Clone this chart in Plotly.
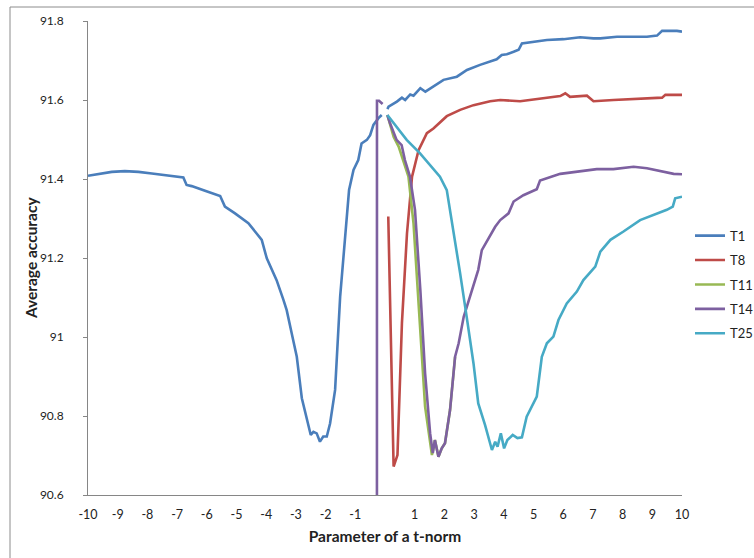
import plotly.graph_objects as go

# ---- data ----
t1_x = [-10, -9.43, -9.2, -8.76, -8.3, -7.85, -7.4, -6.79, -6.68, -6.51, -6.06, -5.55, -5.39, -5.05,
        -4.6, -4.15, -3.98, -3.65, -3.42, -3.31, -3.14, -2.97, -2.8, -2.64, -2.5, -2.41, -2.3, -2.19,
        -2.08, -1.96, -1.85, -1.68, -1.51, -1.35, -1.21, -1.06, -0.9, -0.79, -0.61, -0.5, -0.39,
        -0.22, -0.11, 0, 0.08, 0.12, 0.4, 0.57, 0.68, 0.85, 0.96, 1.19, 1.36, 1.64, 1.97, 2.42, 2.76,
        3.2, 3.54, 3.76, 3.93, 4.1, 4.33, 4.5, 4.61, 5.0, 5.45, 6.01, 6.57, 7.02, 7.25, 7.81, 8.82,
        9.16, 9.33, 9.83, 10]
t1_y = [91.408, 91.414, 91.418, 91.420, 91.418, 91.414, 91.410, 91.404, 91.385, 91.382, 91.370,
        91.357, 91.330, 91.313, 91.288, 91.246, 91.199, 91.144, 91.094, 91.068, 91.009, 90.950,
        90.845, 90.798, 90.752, 90.760, 90.756, 90.735, 90.748, 90.748, 90.781, 90.866, 91.102,
        91.246, 91.372, 91.423, 91.448, 91.490, 91.499, 91.511, 91.537, 91.554, 91.562, None,
        91.577, 91.583, 91.596, 91.606, 91.600, 91.614, 91.611, 91.630, 91.621, 91.634, 91.651,
        91.659, 91.676, 91.689, 91.697, 91.703, 91.714, 91.716, 91.722, 91.727, 91.743, 91.748,
        91.752, 91.754, 91.759, 91.756, 91.756, 91.760, 91.760, 91.763, 91.775, 91.775, 91.773]

t8_x = [0.11, 0.29, 0.42, 0.57, 0.74, 0.91, 1.13, 1.41, 1.63, 2.08, 2.53, 2.98, 3.54, 3.88, 4.55,
        5.22, 5.9, 6.07, 6.23, 6.8, 7.02, 7.69, 8.59, 9.33, 9.44, 10]
t8_y = [91.305, 90.672, 90.701, 91.035, 91.262, 91.406, 91.473, 91.516, 91.528, 91.559, 91.575,
        91.587, 91.597, 91.600, 91.597, 91.604, 91.610, 91.617, 91.608, 91.611, 91.597, 91.600,
        91.604, 91.606, 91.613, 91.613]

t11_x = [0.08, 0.29, 0.46, 0.63, 0.79, 0.96, 1.13, 1.35, 1.58, 1.68, 1.8, 1.91, 2.02, 2.19, 2.36]
t11_y = [91.562, 91.507, 91.482, 91.440, 91.406, 91.288, 91.077, 90.824, 90.701, 90.739, 90.697,
         90.718, 90.731, 90.815, 90.950]

t14_x = [-0.28, -0.27, -0.2, -0.08, 0, 0.08, 0.17, 0.39, 0.56, 0.67, 0.84, 1.01, 1.19, 1.35, 1.52,
         1.61, 1.68, 1.8, 1.91, 2.02, 2.19, 2.36, 2.48, 2.65, 2.93, 3.14, 3.26, 3.54, 3.71, 3.88,
         4.16, 4.33, 4.66, 5.11, 5.22, 5.9, 6.57, 7.13, 7.69, 8.37, 8.82, 9.38, 9.72, 10]
t14_y = [85.0, 91.598, 91.598, 91.590, None, 91.562, 91.541, 91.499, 91.486, 91.448, 91.406, 91.322,
         91.119, 90.908, 90.756, 90.706, 90.739, 90.697, 90.718, 90.731, 90.815, 90.950, 90.984,
         91.051, 91.119, 91.170, 91.220, 91.258, 91.279, 91.296, 91.313, 91.343, 91.359, 91.374,
         91.396, 91.413, 91.420, 91.425, 91.425, 91.431, 91.427, 91.419, 91.413, 91.412]

t25_x = [0.08, 0.29, 0.73, 1.18, 1.58, 1.85, 2.08, 2.3, 2.53, 2.75, 2.98, 3.14, 3.37, 3.6, 3.71,
         3.79, 3.9, 4.01, 4.12, 4.3, 4.46, 4.61, 4.77, 5.11, 5.28, 5.45, 5.67, 5.84, 6.12, 6.46,
         6.68, 7.08, 7.25, 7.59, 8.03, 8.59, 9.04, 9.49, 9.69, 9.77, 10]
t25_y = [91.562, 91.541, 91.499, 91.465, 91.431, 91.406, 91.372, 91.271, 91.161, 91.051, 90.933,
         90.832, 90.777, 90.714, 90.735, 90.722, 90.756, 90.718, 90.739, 90.752, 90.744, 90.746,
         90.798, 90.849, 90.950, 90.984, 91.001, 91.043, 91.085, 91.115, 91.144, 91.178, 91.216,
         91.246, 91.267, 91.296, 91.309, 91.322, 91.330, 91.351, 91.355]

series_names = ["T1", "T8", "T11", "T14", "T25"]
series_colors = ["#4A7EBB", "#BE4B48", "#98B954", "#7D60A0", "#46AAC5"]
series_data = [(t1_x, t1_y), (t8_x, t8_y), (t11_x, t11_y), (t14_x, t14_y), (t25_x, t25_y)]

x_tickvals = [-10, -9, -8, -7, -6, -5, -4, -3, -2, -1, 1, 2, 3, 4, 5, 6, 7, 8, 9, 10]
x_ticktext = ["-10", "-9", "-8", "-7", "-6", "-5", "-4", "-3", "-2", "-1",
              "1", "2", "3", "4", "5", "6", "7", "8", "9", "10"]
y_tickvals = [90.6, 90.8, 91.0, 91.2, 91.4, 91.6, 91.8]
y_ticktext = ["90.6", "90.8", "91", "91.2", "91.4", "91.6", "91.8"]

# ---- figure ----
fig = go.Figure()
for name, color, (xs, ys) in zip(series_names, series_colors, series_data):
    fig.add_trace(go.Scatter(x=xs, y=ys, mode="lines", name=name, legendgroup=name,
                             line=dict(color=color, width=2.6), connectgaps=False))

FONT = "Lato, 'Open Sans', sans-serif"
W, H = 754, 558
L, R, T, B = 88, 72, 21, 63
pw, ph = W - L - R, H - T - B

fig.update_layout(
    width=W, height=H,
    margin=dict(l=L, r=R, t=T, b=B, autoexpand=False),
    paper_bgcolor="white", plot_bgcolor="white",
    font=dict(family=FONT, size=12, color="#222"),
    showlegend=True,
    legend=dict(xref="container", yref="container", x=690 / W, y=0.6045, xanchor="left", yanchor="top",
                font=dict(family=FONT, size=13, color="#222"),
                tracegroupgap=4.5, bgcolor="rgba(0,0,0,0)"),
    xaxis=dict(range=[-10, 10], tickvals=x_tickvals, ticktext=x_ticktext, ticks="", showgrid=False,
               zeroline=False, showline=True, linecolor="#868686", linewidth=1, automargin=False,
               ticklabelstandoff=8,
               tickfont=dict(family=FONT, size=12.5, color="#222"),
               title=dict(text="<b>Parameter of a t-norm</b>", font=dict(family=FONT, size=15.5, color="#222"),
                          standoff=10)),
    yaxis=dict(range=[90.6, 91.8], tickvals=y_tickvals, ticktext=y_ticktext, ticks="outside", ticklen=4,
               tickcolor="#868686", showgrid=False, zeroline=False, showline=True, linecolor="#868686",
               linewidth=1, ticklabelstandoff=17, automargin=False,
               tickfont=dict(family=FONT, size=12, color="#222")),
    annotations=[dict(text="<b>Average accuracy</b>", xref="paper", yref="paper",
                      x=(31 - L) / pw, y=0.5, xanchor="center", yanchor="middle", textangle=-90,
                      showarrow=False, font=dict(family=FONT, size=15.5, color="#222"))],
    shapes=[dict(type="rect", xref="paper", yref="paper",
                 x0=(10 - L) / pw, x1=(W + 10 - L) / pw,
                 y0=(H - B - (H + 10)) / ph, y1=(H - B - 7) / ph,
                 line=dict(color="#8c8c8c", width=1), fillcolor="rgba(0,0,0,0)", layer="above")],
)

fig.write_html("out.html", config={"displayModeBar": False},
               post_script="document.body.style.margin='0px';")
